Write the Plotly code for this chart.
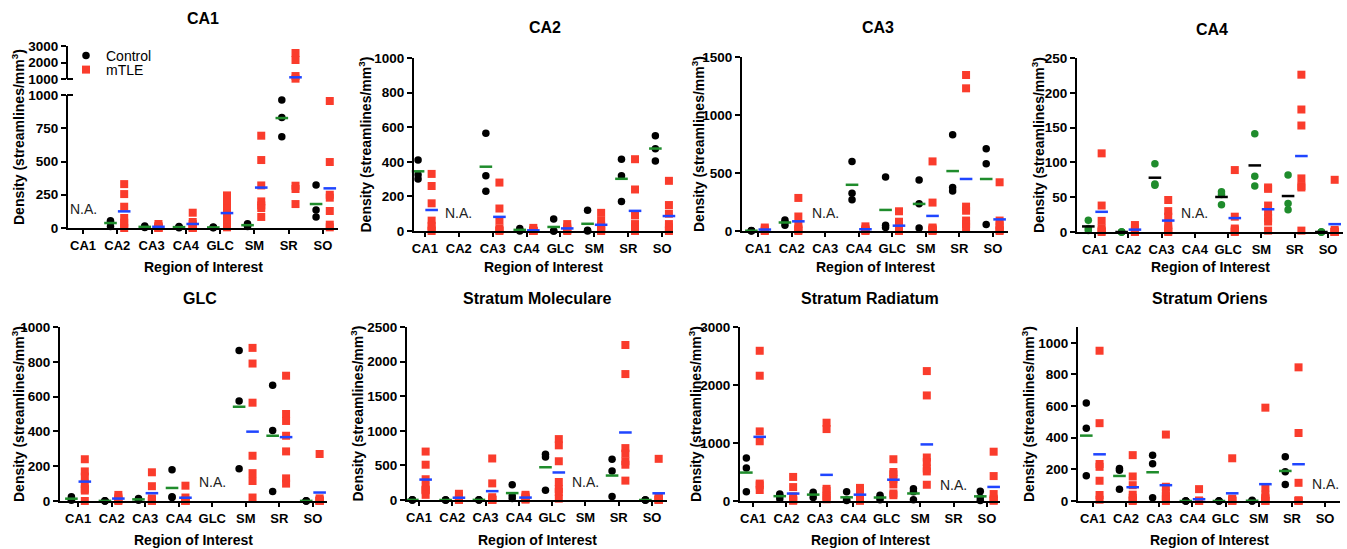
import numpy as np
import plotly.graph_objects as go

categories = ["CA1", "CA2", "CA3", "CA4", "GLC", "SM", "SR", "SO"]
panel_titles = ["CA1", "CA2", "CA3", "CA4", "GLC",
                "Stratum Moleculare", "Stratum Radiatum", "Stratum Oriens"]

# ---- data (streamlines/mm^3), one list per category, None = N.A. ----
ca1_control = [None, [55, 45, 12], [15, 8, 3], [12, 6, 2], [8, 4, 1],
               [32, 20, 12], [962, 831, 687], [323, 135, 83]]
ca1_mtle = [None, [330, 255, 160, 75, 40, 15, 0], [30, 15, 8, 3, 0, 0],
            [115, 45, 30, 15, 5, 2, 0], [245, 190, 150, 110, 60, 25, 5],
            [694, 511, 320, 200, 170, 150, 83],
            [2576, 2151, 1180, 1020, 318, 293, 180],
            [955, 496, 250, 228, 128, 25, 5]]

ca2_control = [[410, 325, 300], None, [565, 320, 230], [15, 5, 0], [70, 0, 0],
               [120, 5, 0], [415, 320, 170], [550, 475, 405]]
ca2_mtle = [[330, 260, 160, 60, 30, 10, 0], None, [280, 130, 60, 15, 5, 0],
            [18, 5, 0, 0, 0, 0], [40, 20, 10, 5, 0], [105, 60, 30, 15, 5, 0],
            [415, 240, 90, 40, 20, 10, 0], [290, 150, 100, 40, 20, 5, 0]]

ca3_control = [[5, 2, 0], [95, 75, 50], None, [600, 325, 270], [465, 50, 30],
               [440, 235, 25], [830, 375, 345], [710, 580, 55]]
ca3_mtle = [[30, 15, 5, 0], [285, 125, 60, 20, 10, 0], None, [40, 20, 10, 5, 0],
            [170, 80, 20, 5, 0, 0], [600, 245, 30, 20, 10, 5, 0],
            [1345, 1230, 210, 175, 90, 60, 30], [420, 90, 50, 30, 10, 0]]

ca4_control = [[17, 5, 2], [0, 0, 0], [98, 69, 67], None, [58, 54, 39],
               [141, 80, 66], [82, 41, 32], [0, 0, 0]]
ca4_mtle = [[113, 38, 16, 5, 2, 0], [10, 5, 2, 0, 0], [46, 30, 22, 10, 5, 2, 0], None,
            [89, 22, 5, 3, 1, 0], [64, 62, 38, 28, 20, 15, 2],
            [226, 176, 153, 77, 66, 64, 2], [75, 3, 1, 0, 0, 0, 0]]

glc_control = [[25, 10, 5], [2, 0, 0], [15, 8, 5], [180, 25, 20], None,
               [865, 575, 185], [665, 405, 55], [2, 0, 0]]
glc_mtle = [[240, 170, 140, 100, 70, 60, 0], [35, 20, 10, 5, 0], [165, 85, 15, 5, 0, 0],
            [88, 20, 5, 0, 0, 0], None, [880, 790, 565, 260, 160, 115, 20],
            [720, 500, 460, 375, 285, 130, 100], [270, 15, 5, 2, 0, 0]]

sm_control = [[5, 0, 0], [0, 0, 0], [5, 0, 0], [220, 60, 20], [660, 620, 140], None,
              [590, 420, 50], [0, 0, 0]]
sm_mtle = [[700, 510, 300, 190, 150, 140, 75], [90, 50, 20, 5, 0],
           [600, 240, 40, 10, 5, 0, 0], [75, 50, 30, 15, 5],
           [880, 790, 560, 260, 160, 115, 20], None,
           [2240, 1820, 750, 670, 560, 510, 280], [595, 40, 30, 10, 5, 0, 0]]

sr_control = [[740, 570, 160], [120, 90, 40], [150, 120, 60], [160, 20, 10],
              [100, 60, 20], [210, 160, 20], None, [170, 60, 10]]
sr_mtle = [[2590, 2160, 1200, 1030, 300, 270, 190], [415, 240, 80, 20, 10, 5],
           [1350, 1240, 210, 175, 90, 60, 30], [226, 176, 153, 77, 66, 64, 2],
           [720, 500, 460, 375, 285, 130, 100], [2240, 1820, 750, 670, 560, 510, 280],
           None, [850, 430, 120, 40, 10, 5]]

so_control = [[620, 460, 160], [205, 195, 75], [290, 235, 20], [0, 0, 0], [0, 0, 0],
              [5, 0, 0], [280, 185, 105], None]
so_mtle = [[950, 492, 234, 216, 128, 38, 8], [290, 155, 100, 40, 20, 5, 0],
           [420, 90, 50, 30, 10, 0], [75, 3, 1, 0, 0, 0, 0], [270, 15, 5, 2, 0, 0],
           [590, 85, 40, 20, 10, 0, 0], [845, 430, 115, 5, 0, 0], None]

controls = [ca1_control, ca2_control, ca3_control, ca4_control,
            glc_control, sm_control, sr_control, so_control]
mtles = [ca1_mtle, ca2_mtle, ca3_mtle, ca4_mtle, glc_mtle, sm_mtle, sr_mtle, so_mtle]

# ---- layout geometry (pixels) ----
W, H = 1347, 549
def PX(x): return x / W
def PY(y): return 1 - y / H

geo = [
    dict(x0=68, x1=338, yb=228, yt=95, ymax=1000, ticks=[0, 250, 500, 750, 1000], pl=0.44, pr=0.44, tx=203, ty=19, ytx=18, ytop=46, xty=267, na=140),
    dict(x0=414, x1=673, yb=231, yt=58, ymax=1000, ticks=[0, 200, 400, 600, 800, 1000], pl=0.32, pr=0.32, tx=545, ty=28, ytx=365, ytop=58, xty=267, na=105),
    dict(x0=742, x1=1008, yb=231, yt=57, ymax=1500, ticks=[0, 500, 1000, 1500], pl=0.48, pr=0.45, tx=878, ty=28, ytx=698, ytop=57, xty=267, na=158),
    dict(x0=1077, x1=1343, yb=232, yt=58, ymax=250, ticks=[0, 50, 100, 150, 200, 250], pl=0.54, pr=0.45, tx=1212, ty=30, ytx=1038, ytop=58, xty=267, na=27),
    dict(x0=60, x1=327, yb=501, yt=327, ymax=1000, ticks=[0, 200, 400, 600, 800, 1000], pl=0.54, pr=0.42, tx=200, ty=298, ytx=18, ytop=327, xty=540, na=107),
    dict(x0=407, x1=667, yb=500, yt=327, ymax=2500, ticks=[0, 500, 1000, 1500, 2000, 2500], pl=0.36, pr=0.45, tx=537, ty=298, ytx=357, ytop=327, xty=540, na=259),
    dict(x0=740, x1=1000, yb=501, yt=327, ymax=3000, ticks=[0, 1000, 2000, 3000], pl=0.39, pr=0.39, tx=870, ty=298, ytx=695, ytop=327, xty=540, na=282),
    dict(x0=1078, x1=1340, yb=501, yt=327, ymax=1100, ticks=[0, 200, 400, 600, 800, 1000], pl=0.45, pr=0.45, tx=1210, ty=298, ytx=1028, ytop=327, xty=540, na=109),
]

FONT = "Liberation Sans, Arial, Helvetica, sans-serif"
RED = "#fa3c2c"
GREEN = "#1f8c2c"
BLUE = "#1f45ff"
OFF_C, OFF_M = -0.2, 0.2

fig = go.Figure()
layout = {}
annotations = []

def bold(labels):
    return ["<b>%s</b>" % s for s in labels]

def axis_common():
    return dict(showline=True, linewidth=2, linecolor="black", showgrid=False,
                zeroline=False, ticks="outside", ticklen=4, tickwidth=2, tickcolor="black",
                fixedrange=True, automargin=False,
                tickfont=dict(family=FONT, size=13.5, color="black"))

for k, g in enumerate(geo):
    sfx = "" if k == 0 else str(k + 1)
    xref, yref = "x" + sfx, "y" + sfx
    xa = axis_common()
    xa.update(domain=[PX(g["x0"]), PX(g["x1"])], range=[-g["pl"], 7 + g["pr"]],
              anchor=yref, tickmode="array", tickvals=list(range(8)),
              ticktext=bold(categories))
    xa["tickfont"] = dict(family=FONT, size=13, color="black")
    ya = axis_common()
    ya.update(domain=[PY(g["yb"]), PY(g["yt"])], range=[0, g["ymax"]], anchor=xref,
              tickmode="array", tickvals=g["ticks"],
              ticktext=bold([str(t) for t in g["ticks"]]), ticklen=5)
    layout["xaxis" + sfx] = xa
    layout["yaxis" + sfx] = ya

    ctrl_color = GREEN if k == 3 else "black"
    ctrl_mean_color = "black" if k == 3 else GREEN

    for grp, data, off, sym, mcol, meancol, name, leg in [
        ("c", controls[k], OFF_C, "circle", ctrl_color, ctrl_mean_color, "Control", "legend"),
        ("m", mtles[k], OFF_M, "square", RED, BLUE, "mTLE", "legend2"),
    ]:
        pts = {"lo": ([], []), "hi": ([], [])}
        means = {"lo": ([], []), "hi": ([], [])}
        for i, vals in enumerate(data):
            if vals is None:
                continue
            for v in vals:
                key = "hi" if (k == 0 and v > 1000) else "lo"
                pts[key][0].append(i + off)
                pts[key][1].append(v)
            mv = float(np.mean(vals))
            key = "hi" if (k == 0 and mv > 1000) else "lo"
            means[key][0].append(i + off)
            means[key][1].append(mv)
        for key in ["lo", "hi"]:
            yr = "y9" if key == "hi" else yref
            if pts[key][0]:
                fig.add_trace(go.Scatter(
                    x=pts[key][0], y=pts[key][1], xaxis=xref, yaxis=yr, mode="markers",
                    marker=dict(symbol=sym, size=8 if sym == "square" else 7.5, color=mcol,
                                line=dict(width=0)),
                    name=name, legendgroup=name, legend=leg,
                    showlegend=(k == 0 and key == "lo"), cliponaxis=False,
                    hoverinfo="skip"))
        for key in ["lo", "hi"]:
            yr = "y9" if key == "hi" else yref
            if means[key][0]:
                fig.add_trace(go.Scatter(
                    x=means[key][0], y=means[key][1], xaxis=xref, yaxis=yr, mode="markers",
                    marker=dict(symbol="line-ew", size=9, line=dict(width=2.5, color=meancol)),
                    showlegend=False, cliponaxis=False, hoverinfo="skip"))

    # N.A. label at the panel's own category
    annotations.append(dict(x=k, y=g["na"], xref=xref, yref=yref, text="N.A.",
                            xanchor="center", yanchor="middle",
                            showarrow=False, font=dict(family=FONT, size=14, color="#222")))
    # panel title
    annotations.append(dict(x=PX(g["tx"]), y=PY(g["ty"]), xref="paper", yref="paper",
                            xanchor="center", yanchor="middle",
                            text="<b>" + panel_titles[k] + "</b>", showarrow=False,
                            font=dict(family=FONT, size=16, color="black")))
    # x axis title
    annotations.append(dict(x=PX((g["x0"] + g["x1"]) / 2), y=PY(g["xty"]), xref="paper", yref="paper",
                            xanchor="center", yanchor="middle",
                            text="<b>Region of Interest</b>", showarrow=False,
                            font=dict(family=FONT, size=14, color="black")))
    # y axis title
    annotations.append(dict(x=PX(g["ytx"]), y=PY((g["ytop"] + g["yb"]) / 2), xref="paper", yref="paper",
                            xanchor="center", yanchor="middle",
                            text="<b>Density (streamlines/mm<sup>3</sup>)</b>", showarrow=False,
                            textangle=-90, font=dict(family=FONT, size=14, color="black")))

# upper segment of the broken CA1 axis
ya9 = axis_common()
ya9.update(domain=[PY(79), PY(46)], range=[1000, 3000], anchor="x",
           tickmode="array", tickvals=[1000, 2000, 3000],
           ticktext=bold(["1000", "2000", "3000"]), ticklen=5)
layout["yaxis9"] = ya9

shapes = [
    dict(type="line", xref="paper", yref="paper", x0=PX(67), x1=PX(73), y0=PY(79), y1=PY(79),
         line=dict(color="black", width=2)),
    dict(type="line", xref="paper", yref="paper", x0=PX(67), x1=PX(73), y0=PY(95), y1=PY(95),
         line=dict(color="black", width=2)),
]

legend_style = dict(xanchor="left", yanchor="middle", bgcolor="rgba(0,0,0,0)",
                    font=dict(family=FONT, size=14, color="black"), tracegroupgap=0)

fig.update_layout(
    template="none",
    width=W, height=H, autosize=False,
    margin=dict(l=0, r=0, t=0, b=0, pad=0),
    paper_bgcolor="white", plot_bgcolor="white",
    showlegend=True,
    legend=dict(x=PX(66), y=PY(56), **legend_style),
    legend2=dict(x=PX(66), y=PY(70), **legend_style),
    annotations=annotations, shapes=shapes,
    **layout,
)

fig.write_html("out.html", config={"displayModeBar": False},
               post_script="document.body.style.margin='0';document.body.style.overflow='hidden';")
